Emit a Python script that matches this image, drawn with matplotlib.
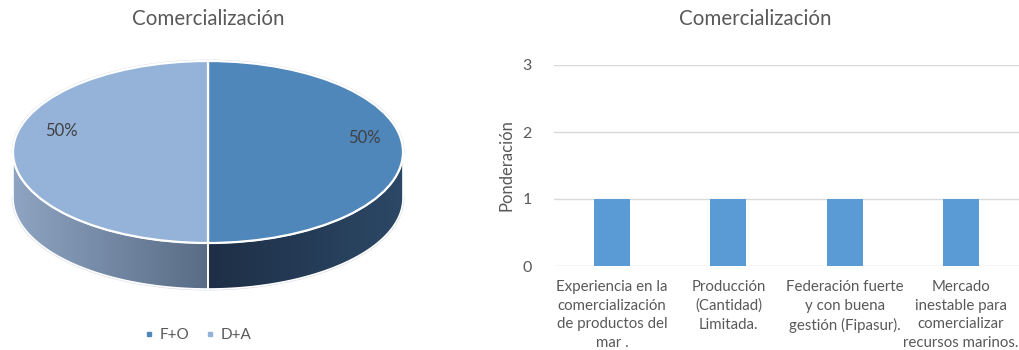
import numpy as np
import matplotlib.pyplot as plt
from matplotlib.patches import Wedge, Polygon
from matplotlib.lines import Line2D
from matplotlib.transforms import Affine2D
from matplotlib.colors import LinearSegmentedColormap

plt.rcParams['font.family'] = ['Lato', 'DejaVu Sans']

# pie data
pie_labels = ['F+O', 'D+A']
pie_values = [50, 50]

# bar data
bar_cats = ['Experiencia en la\ncomercialización\nde productos del\nmar .',
            'Producción\n(Cantidad)\nLimitada.',
            'Federación fuerte\ny con buena\ngestión (Fipasur).',
            'Mercado\ninestable para\ncomercializar\nrecursos marinos.']
bar_vals = [1, 1, 1, 1]
y_ticks = [0, 1, 2, 3]

txt = '#595959'
top_cols = ['#4f87bb', '#95b3d8']
side_cols = [('#1e2f46', '#2c4866'), ('#8ea4c2', '#596c85')]  # colour at left x, right x

W, H = 1019, 350
fig = plt.figure(figsize=(W / 100, H / 100), dpi=100)

# ---------- 3D-look pie ----------
R = 195.0
cx, cy = 208, 152
sq = 91 / R       # vertical squash of the top face
depth = 46 / R    # thickness of the disc
pl, pr, pt, pb = 0, 416, 40, 310
ax1 = fig.add_axes([pl / W, 1 - pb / H, (pr - pl) / W, (pb - pt) / H])
ax1.set_xlim((pl - cx) / R, (pr - cx) / R)
ax1.set_ylim((cy - pb) / R, (cy - pt) / R)
ax1.set_aspect('equal')
ax1.axis('off')

total = float(sum(pie_values))
angles = []
start = 90.0
for v in pie_values:
    span = 360.0 * v / total
    angles.append((start - span, start))   # clockwise from 12 o'clock
    start -= span

ell = Affine2D().scale(1, sq) + ax1.transData

# outline of the whole disc
tt = np.linspace(0, np.pi, 200)
lower = np.linspace(np.pi, 2 * np.pi, 200)
ox = np.concatenate([np.cos(tt), np.cos(lower[::-1])])
oy = np.concatenate([sq * np.sin(tt), sq * np.sin(lower[::-1]) - depth])
ax1.add_patch(Polygon(np.column_stack([ox, oy]), closed=True, fc='none',
                      ec='#d5dce6', lw=2.0, zorder=0))

# visible side of each slice (front half only)
for (lo, hi), (cl, cr) in zip(angles, side_cols):
    for k in (-1, 0, 1):
        a0 = max(lo + 360 * k, 180)
        a1 = min(hi + 360 * k, 360)
        if a1 <= a0:
            continue
        t = np.radians(np.linspace(a0, a1, 120))
        xs = np.cos(t)
        ys = sq * np.sin(t)
        poly = np.column_stack([np.concatenate([xs, xs[::-1]]),
                                np.concatenate([ys, ys[::-1] - depth])])
        patch = Polygon(poly, closed=True, fc='none', ec='white', lw=1.2, zorder=2)
        ax1.add_patch(patch)
        x0, x1 = xs.min(), xs.max()
        cmap = LinearSegmentedColormap.from_list('side', [cl, cr])
        img = ax1.imshow(np.linspace(0, 1, 256)[None, :], cmap=cmap, aspect='auto',
                         extent=[x0, x1, -sq - depth, 0], zorder=1, interpolation='bilinear')
        img.set_clip_path(patch)

# top face
for (lo, hi), c in zip(angles, top_cols):
    ax1.add_patch(Wedge((0, 0), 1, lo, hi, fc=c, ec='white', lw=1.6,
                        transform=ell, zorder=3))

# percentage labels
label_pos = [(0.80, 0.07), (-0.75, 0.11)]
for v, (lx, ly) in zip(pie_values, label_pos):
    ax1.text(lx, ly, '%d%%' % round(100 * v / total), ha='center', va='center',
             fontsize=12, color='#404040', zorder=4)

ax1.set_xlim((pl - cx) / R, (pr - cx) / R)
ax1.set_ylim((cy - pb) / R, (cy - pt) / R)

fig.text(208 / W, 1 - 19 / H, 'Comercialización', ha='center', va='center',
         fontsize=14.8, color=txt)

handles = [Line2D([], [], ls='none', marker='s', ms=3.5, mfc=c, mec=c) for c in top_cols]
fig.legend(handles, pie_labels, loc='center', bbox_to_anchor=(198 / W, 1 - 335 / H),
           ncol=2, frameon=False, fontsize=11, labelcolor=txt, handlelength=0.6,
           handletextpad=0.45, columnspacing=1.0)

# ---------- bar chart ----------
bl, br, btop, bbot = 554, 1019, 65, 266
ax2 = fig.add_axes([bl / W, 1 - bbot / H, (br - bl) / W, (bbot - btop) / H])
x = np.arange(len(bar_cats))
ax2.bar(x, bar_vals, width=0.31, color='#5b9bd5', zorder=3)
ax2.set_xlim(-0.5, len(bar_cats) - 0.5)
ax2.set_ylim(0, 3)
ax2.set_yticks(y_ticks)
ax2.grid(axis='y', color='#d9d9d9', lw=1, zorder=0)
for s in ax2.spines.values():
    s.set_visible(False)
ax2.tick_params(length=0, labelsize=10.8, labelcolor=txt)
ax2.tick_params(axis='y', pad=16, labelsize=11.5)
ax2.tick_params(axis='x', pad=10)
ax2.set_xticks(x)
ax2.set_xticklabels(bar_cats, linespacing=1.42)
ax2.set_ylabel('Ponderación', fontsize=12, color=txt, labelpad=6)
fig.text(755 / W, 1 - 19 / H, 'Comercialización', ha='center', va='center',
         fontsize=14.8, color=txt)

fig.savefig('out.png', dpi=100)
